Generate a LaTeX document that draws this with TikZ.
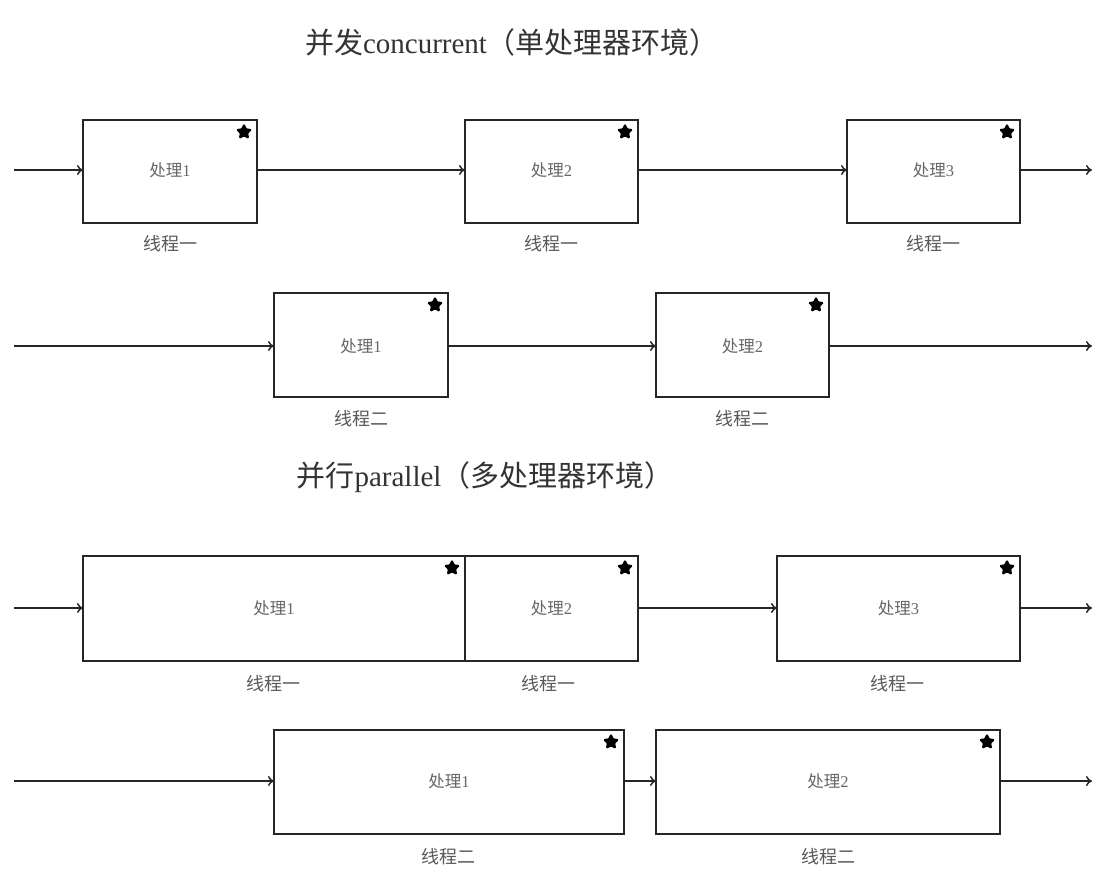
\documentclass[tikz,border=0pt]{standalone}
\usepackage{fontspec}
\setmainfont{Liberation Serif}
\newfontfamily\cjk{Noto Sans CJK SC}
\usetikzlibrary{arrows.meta,shapes.geometric}
\begin{document}
\begin{tikzpicture}[x=1pt,y=-1pt,
  proc/.style={draw=black!85,line width=1.8pt,inner sep=0pt},
  lbl/.style={text=black!60,font=\fontsize{16.5}{18}\selectfont},
  thr/.style={text=black!65,font=\fontsize{18}{20}\selectfont},
  ttl/.style={text=black!80,font=\fontsize{29}{32}\selectfont},
  asterisk/.style={shape=star,star points=5,star point ratio=2.1,fill=black,draw=black,line width=1.4pt,rounded corners=1pt,minimum size=15pt,inner sep=0pt},
  conn/.style={draw=black!85,line width=1.5pt,-{To[length=6pt,width=10pt]}}]
\path[use as bounding box,fill=white] (0,0) rectangle (1107,885);
\newcommand{\mybox}[7]{% name, x1, y1, x2, y2, ymid, text
  \path[proc] (#2,#3) rectangle (#4,#5);
  \coordinate (#1w) at (#2,#6);
  \coordinate (#1e) at (#4,#6);
  \node[lbl] (#1t) at ({(#2+#4)/2},#6) {#7};
  \node[asterisk] (#1s) at ({#4-13},{#3+12}) {};
}
\node[ttl] (t1) at (512,42) {{\cjk 并发}concurrent{\cjk （单处理器环境）}};
\node[ttl] (t2) at (485,477) {{\cjk 并行}parallel{\cjk （多处理器环境）}};
% row 1
\mybox{a}{83}{120}{257}{223}{170}{{\cjk 处理}1}
\mybox{b}{465}{120}{638}{223}{170}{{\cjk 处理}2}
\mybox{c}{847}{120}{1020}{223}{170}{{\cjk 处理}3}
\coordinate (r1in) at (14,170);
\coordinate (r1out) at (1092,170);
\draw[conn] (r1in) -- (aw);
\draw[conn] (ae) -- (bw);
\draw[conn] (be) -- (cw);
\draw[conn] (ce) -- (r1out);
\node[thr] (al) at (170,244) {\cjk 线程一};
\node[thr] (bl) at (551,244) {\cjk 线程一};
\node[thr] (cl) at (933,244) {\cjk 线程一};
% row 2
\mybox{d}{274}{293}{448}{397}{346}{{\cjk 处理}1}
\mybox{e}{656}{293}{829}{397}{346}{{\cjk 处理}2}
\coordinate (r2in) at (14,346);
\coordinate (r2out) at (1092,346);
\draw[conn] (r2in) -- (dw);
\draw[conn] (de) -- (ew);
\draw[conn] (ee) -- (r2out);
\node[thr] (dl) at (361,419) {\cjk 线程二};
\node[thr] (el) at (742,419) {\cjk 线程二};
% row 3
\mybox{f}{83}{556}{465}{661}{608}{{\cjk 处理}1}
\mybox{g}{465}{556}{638}{661}{608}{{\cjk 处理}2}
\mybox{h}{777}{556}{1020}{661}{608}{{\cjk 处理}3}
\coordinate (r3in) at (14,608);
\coordinate (r3out) at (1092,608);
\draw[conn] (r3in) -- (fw);
\draw[conn] (ge) -- (hw);
\draw[conn] (he) -- (r3out);
\node[thr] (fl) at (273,684) {\cjk 线程一};
\node[thr] (gl) at (548,684) {\cjk 线程一};
\node[thr] (hl) at (897,684) {\cjk 线程一};
% row 4
\mybox{i}{274}{730}{624}{834}{781}{{\cjk 处理}1}
\mybox{j}{656}{730}{1000}{834}{781}{{\cjk 处理}2}
\coordinate (r4in) at (14,781);
\coordinate (r4out) at (1092,781);
\draw[conn] (r4in) -- (iw);
\draw[conn] (ie) -- (jw);
\draw[conn] (je) -- (r4out);
\node[thr] (il) at (448,857) {\cjk 线程二};
\node[thr] (jl) at (828,857) {\cjk 线程二};
\end{tikzpicture}
\end{document}
